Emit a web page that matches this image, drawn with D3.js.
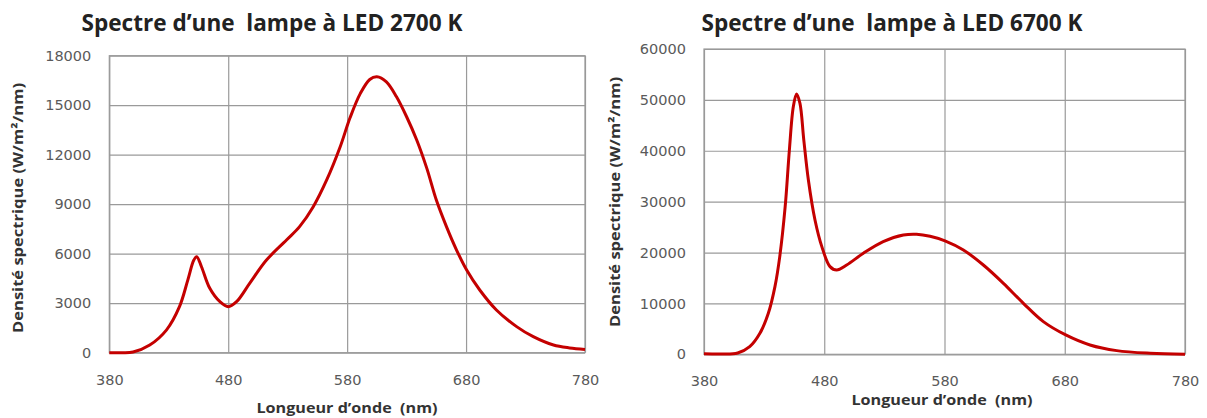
<!DOCTYPE html>
<html>
<head>
<meta charset="utf-8">
<script src="https://cdn.jsdelivr.net/npm/d3@7"></script>
<style>
  body { margin: 0; background: #fff; }
  svg text { white-space: pre; }
  .tick text { font-family: "DejaVu Sans", sans-serif; font-size: 14.5px; fill: #5a5a5a; }
  .tick line { stroke: #9a9a9a; stroke-width: 1.2; }
  .title { font-family: "Open Sans", sans-serif; font-weight: bold; font-size: 23px; fill: #222; }
  .axis-title { font-family: "Open Sans", sans-serif; font-weight: bold; font-size: 14px; fill: #333; }
</style>
</head>
<body>
<div id="chart"></div>
<script>
// x ticks shared by both charts
var xTicks = [380, 480, 580, 680, 780];

// LED 2700 K
var wl2700 = [380, 390, 400, 414, 428, 439, 446, 451, 453.5, 457.5, 464.5, 473, 480, 487, 498, 512, 529, 540, 551.5, 563, 574, 582.5, 591, 599, 605, 613, 621.5, 630, 638.5, 647, 655, 663.5, 672, 680.5, 691.5, 705.5, 722.5, 736.5, 753.5, 767, 780];
var val2700 = [0, 0, 40, 465, 1370, 2790, 4400, 5600, 5820, 5210, 3900, 3090, 2790, 3090, 4200, 5600, 6830, 7640, 8850, 10500, 12450, 14250, 15700, 16560, 16730, 16420, 15510, 14300, 12890, 11170, 9250, 7640, 6220, 5010, 3800, 2590, 1580, 970, 465, 290, 200];
var yTicks2700 = [0, 3000, 6000, 9000, 12000, 15000, 18000];

// LED 6700 K
var wl6700 = [380, 395, 408, 418, 426.5, 433.5, 439, 443, 447.5, 451, 454.3, 457, 459.8, 463, 466.8, 472.3, 478, 484.8, 490.3, 498.6, 512.5, 529, 545.8, 556.8, 568, 580.4, 595.7, 612.3, 629, 645.6, 662.2, 680.8, 701, 723.2, 751, 780];
var val6700 = [100, 50, 250, 1500, 4130, 8060, 13300, 19200, 29000, 40150, 48700, 51160, 49300, 42100, 34260, 26400, 21160, 17230, 16570, 17550, 19850, 22140, 23450, 23600, 23200, 22300, 20500, 17550, 13950, 10020, 6420, 3800, 1830, 720, 200, 0];
var yTicks6700 = [0, 10000, 20000, 30000, 40000, 50000, 60000];

var svg = d3.select("#chart").append("svg")
    .attr("width", 1207)
    .attr("height", 418);

function drawChart(opt) {
    var width = opt.right - opt.left;
    var height = opt.bottom - opt.top;

    var g = svg.append("g")
        .attr("transform", `translate(${opt.left}, ${opt.top})`);

    var xScale = d3.scaleLinear().domain([380, 780]).range([0, width]);
    var yScale = d3.scaleLinear().domain([0, opt.yMax]).range([height, 0]);

    // horizontal grid + y labels
    var yAxis = g.append("g")
        .call(d3.axisLeft(yScale).tickValues(opt.yTicks).tickSize(-width).tickPadding(opt.yPad).tickFormat(d3.format("d")));
    yAxis.select(".domain").remove();

    // vertical grid + x labels
    var xAxis = g.append("g")
        .attr("transform", `translate(0, ${height})`)
        .call(d3.axisBottom(xScale).tickValues(xTicks).tickSize(-height).tickPadding(opt.xPad).tickFormat(d3.format("d")));
    xAxis.select(".domain").remove();

    // plot border
    g.append("rect")
        .attr("width", width)
        .attr("height", height)
        .attr("fill", "none")
        .attr("stroke", "#9a9a9a")
        .attr("stroke-width", 1.2);

    var line = d3.line()
        .x((d, i) => xScale(opt.wl[i]))
        .y(d => yScale(d))
        .curve(d3.curveCatmullRom.alpha(0.5));

    g.append("path")
        .datum(opt.values)
        .attr("d", line)
        .attr("fill", "none")
        .attr("stroke", "#c40000")
        .attr("stroke-width", 3)
        .attr("stroke-linejoin", "round");

    // chart title
    svg.append("text")
        .attr("class", "title")
        .attr("x", opt.titleX)
        .attr("y", 31)
        .attr("text-anchor", "middle")
        .attr("textLength", 381)
        .attr("lengthAdjust", "spacingAndGlyphs")
        .text(opt.title);

    // x axis title
    svg.append("text")
        .attr("class", "axis-title")
        .attr("x", opt.xTitleX)
        .attr("y", opt.xTitleY)
        .attr("text-anchor", "middle")
        .attr("textLength", 181)
        .attr("lengthAdjust", "spacingAndGlyphs")
        .text("Longueur d\u2019onde  (nm)");

    // y axis title
    svg.append("text")
        .attr("class", "axis-title")
        .attr("transform", `translate(${opt.yTitleX}, ${opt.yTitleY}) rotate(-90)`)
        .attr("text-anchor", "middle")
        .attr("textLength", 250)
        .attr("lengthAdjust", "spacingAndGlyphs")
        .text("Densité spectrique (W/m²/nm)");
}

drawChart({
    left: 109.3, right: 585, top: 55.7, bottom: 352.7,
    wl: wl2700, values: val2700, yTicks: yTicks2700, yMax: 18000,
    yPad: 18, xPad: 22,
    title: "Spectre d\u2019une  lampe à LED 2700 K", titleX: 272,
    xTitleX: 347, xTitleY: 413,
    yTitleX: 23, yTitleY: 208
});

drawChart({
    left: 704, right: 1185, top: 49, bottom: 354.3,
    wl: wl6700, values: val6700, yTicks: yTicks6700, yMax: 60000,
    yPad: 18, xPad: 21,
    title: "Spectre d\u2019une  lampe à LED 6700 K", titleX: 892,
    xTitleX: 942, xTitleY: 405,
    yTitleX: 620, yTitleY: 202
});
</script>
</body>
</html>
